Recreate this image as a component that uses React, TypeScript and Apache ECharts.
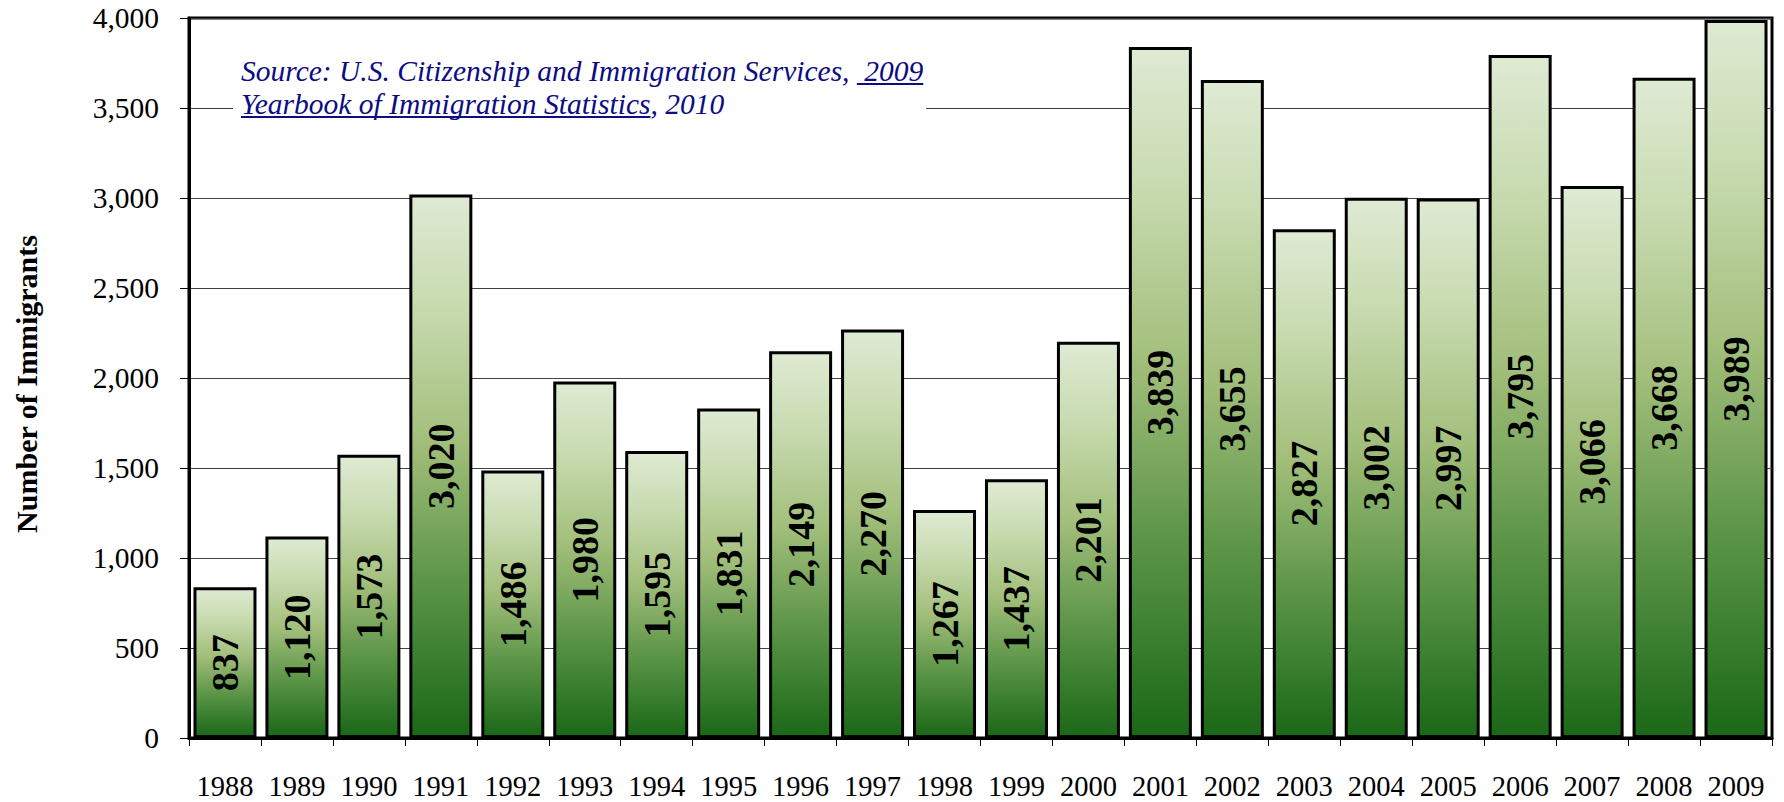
import React, { useEffect, useRef } from "react";
import * as echarts from "echarts";

const years = [
  "1988", "1989", "1990", "1991", "1992", "1993", "1994", "1995", "1996", "1997", "1998",
  "1999", "2000", "2001", "2002", "2003", "2004", "2005", "2006", "2007", "2008", "2009",
];
const immigrants = [
  837, 1120, 1573, 3020, 1486, 1980, 1595, 1831, 2149, 2270, 1267,
  1437, 2201, 3839, 3655, 2827, 3002, 2997, 3795, 3066, 3668, 3989,
];
const yAxisTitle = "Number of Immigrants";
const sourceLine1 = "Source: U.S. Citizenship and Immigration Services,  2009";
const sourceLine1Plain = "Source: U.S. Citizenship and Immigration Services, ";
const sourceLine2 = "Yearbook of Immigration Statistics, 2010";
const sourceLine2Underlined = "Yearbook of Immigration Statistics";

const FONT = '"Liberation Serif", "Times New Roman", serif';
const fmt = (v: number) => v.toLocaleString("en-US");

export default function App() {
  const ref = useRef<HTMLDivElement>(null);

  useEffect(() => {
    if (!ref.current) return;
    const chart = echarts.init(ref.current, undefined, { renderer: "svg" });

    const srcSize = 29.5;
    const canvas = document.createElement("canvas");
    const ctx = canvas.getContext("2d")!;
    ctx.font = `italic ${srcSize}px "Liberation Serif"`;
    const srcX = 241;
    const w1Full = ctx.measureText(sourceLine1).width;
    const w1Plain = ctx.measureText(sourceLine1Plain).width;
    const w2U = ctx.measureText(sourceLine2Underlined).width;
    const navy = "#0c0c84";

    const option: any = {
      animation: false,
      backgroundColor: "#fff",
      grid: {
        left: 189,
        right: 12,
        top: 18,
        bottom: 64,
        show: true,
        borderColor: "#000",
        borderWidth: 3,
        backgroundColor: "transparent",
      },
      xAxis: {
        type: "category",
        data: years,
        axisLine: { show: true, lineStyle: { color: "#000", width: 3 } },
        axisTick: { show: true, length: 8, interval: 0, lineStyle: { color: "#000", width: 1 } },
        axisLabel: { fontSize: 28.5, fontFamily: FONT, color: "#000", margin: 34, interval: 0 },
      },
      yAxis: {
        type: "value",
        min: 0,
        max: 4000,
        interval: 500,
        axisLine: { show: true, lineStyle: { color: "#000", width: 3 } },
        axisTick: { show: true, length: 9, lineStyle: { color: "#000", width: 1 } },
        splitLine: { show: true, lineStyle: { color: "#404040", width: 1 } },
        axisLabel: {
          fontSize: 29.5,
          fontFamily: FONT,
          color: "#000",
          margin: 30,
          formatter: (v: number) => fmt(v),
        },
      },
      series: [
        {
          type: "bar",
          data: immigrants,
          barWidth: 63,
          itemStyle: {
            borderColor: "#000",
            borderWidth: 3,
            color: new echarts.graphic.LinearGradient(0, 0, 0, 1, [
              { offset: 0, color: "#dfead3" },
              { offset: 0.2, color: "#c8dbb0" },
              { offset: 0.45, color: "#a3bf7c" },
              { offset: 0.7, color: "#5f974a" },
              { offset: 1, color: "#1a6817" },
            ]),
          },
          label: {
            show: true,
            position: "inside",
            rotate: 90,
            fontSize: 38,
            fontWeight: "bold",
            fontFamily: FONT,
            color: "#000",
            formatter: (p: any) => fmt(p.value),
          },
        },
      ],
      graphic: [
        {
          type: "rect",
          z: 100,
          shape: { x: 233, y: 40, width: 693, height: 85 },
          style: { fill: "#fff" },
        },
        {
          type: "text",
          z: 101,
          x: srcX,
          y: 71,
          style: {
            text: sourceLine1,
            fontSize: srcSize,
            fontStyle: "italic",
            fontFamily: FONT,
            fill: navy,
            verticalAlign: "middle",
          },
        },
        {
          type: "text",
          z: 101,
          x: srcX,
          y: 104,
          style: {
            text: sourceLine2,
            fontSize: srcSize,
            fontStyle: "italic",
            fontFamily: FONT,
            fill: navy,
            verticalAlign: "middle",
          },
        },
        {
          type: "line",
          z: 101,
          shape: { x1: srcX + w1Plain, y1: 84, x2: srcX + w1Full, y2: 84 },
          style: { stroke: navy, lineWidth: 2 },
        },
        {
          type: "line",
          z: 101,
          shape: { x1: srcX, y1: 117, x2: srcX + w2U, y2: 117 },
          style: { stroke: navy, lineWidth: 2 },
        },
        {
          type: "text",
          z: 101,
          x: 26,
          y: 384,
          rotation: Math.PI / 2,
          style: {
            text: yAxisTitle,
            fontSize: 30,
            fontWeight: "bold",
            fontFamily: FONT,
            fill: "#000",
            align: "center",
            verticalAlign: "middle",
          },
        },
      ],
    };

    chart.setOption(option);
    return () => chart.dispose();
  }, []);

  return (
    <div
      ref={ref}
      style={{ position: "fixed", left: 0, top: 0, width: 1784, height: 802 }}
    />
  );
}
